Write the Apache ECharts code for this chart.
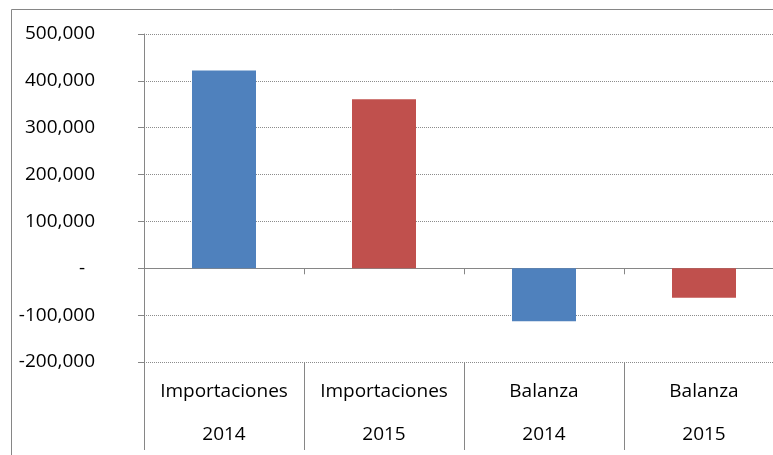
<!DOCTYPE html>
<html>
<head>
<meta charset="utf-8">
<script src="https://cdn.jsdelivr.net/npm/echarts@6/dist/echarts.min.js"></script>
<style>
  html, body { margin: 0; padding: 0; background: #fff; }
  #chart { width: 773px; height: 455px; }
</style>
</head>
<body>
<div id="chart"></div>
<script>
// categorías y valores
var categories = ['Importaciones', 'Importaciones', 'Balanza', 'Balanza'];
var years = ['2014', '2015', '2014', '2015'];
var values2014 = [422000, null, -113000, null];
var values2015 = [null, 361000, null, -63000];

var labels = categories.map(function (c, i) { return c + '\n' + years[i]; });

var chart = echarts.init(document.getElementById('chart'));
var font = '"Open Sans", sans-serif';

var option = {
  backgroundColor: '#ffffff',
  animation: false,
  graphic: [{
    type: 'rect',
    shape: { x: 11.5, y: 9.5, width: 800, height: 500 },
    style: { fill: 'none', stroke: '#868686', lineWidth: 1 },
    silent: true
  }],
  // el área de trazado sigue más allá del borde derecho
  grid: { left: 144, top: 34, width: 640, bottom: 93, outerBoundsMode: 'none' },
  xAxis: [{
    type: 'category',
    data: labels,
    axisLine: { onZero: true, lineStyle: { color: '#868686', width: 1 } },
    axisTick: { show: true, length: 6, lineStyle: { color: '#868686' } },
    axisLabel: { show: false },
    splitLine: { show: false }
  }, {
    type: 'category',
    data: labels,
    position: 'bottom',
    axisLine: { show: false, onZero: false },
    axisTick: { show: true, length: 88, lineStyle: { color: '#868686' } },
    axisLabel: {
      interval: 0,
      margin: 8,
      fontFamily: font,
      fontSize: 19,
      lineHeight: 43,
      color: '#000'
    },
    splitLine: { show: false }
  }],
  yAxis: {
    type: 'value',
    min: -200000,
    max: 500000,
    interval: 100000,
    axisLine: { show: true, lineStyle: { color: '#868686' } },
    axisTick: { show: true, length: 6, lineStyle: { color: '#868686' } },
    axisLabel: {
      margin: 49,
      fontFamily: font,
      fontSize: 19,
      color: '#000',
      formatter: function (v) {
        if (v === 0) return '-  ';
        return v.toLocaleString('en-US');
      }
    },
    splitLine: { show: true, lineStyle: { color: '#8c8c8c', type: [1, 1], width: 1 } }
  },
  series: [{
    name: '2014',
    type: 'bar',
    stack: 'total',
    barWidth: '40%',
    data: values2014,
    itemStyle: { color: '#4F81BD' }
  }, {
    name: '2015',
    type: 'bar',
    stack: 'total',
    barWidth: '40%',
    data: values2015,
    itemStyle: { color: '#C0504D' }
  }]
};
chart.setOption(option);
</script>
</body>
</html>
